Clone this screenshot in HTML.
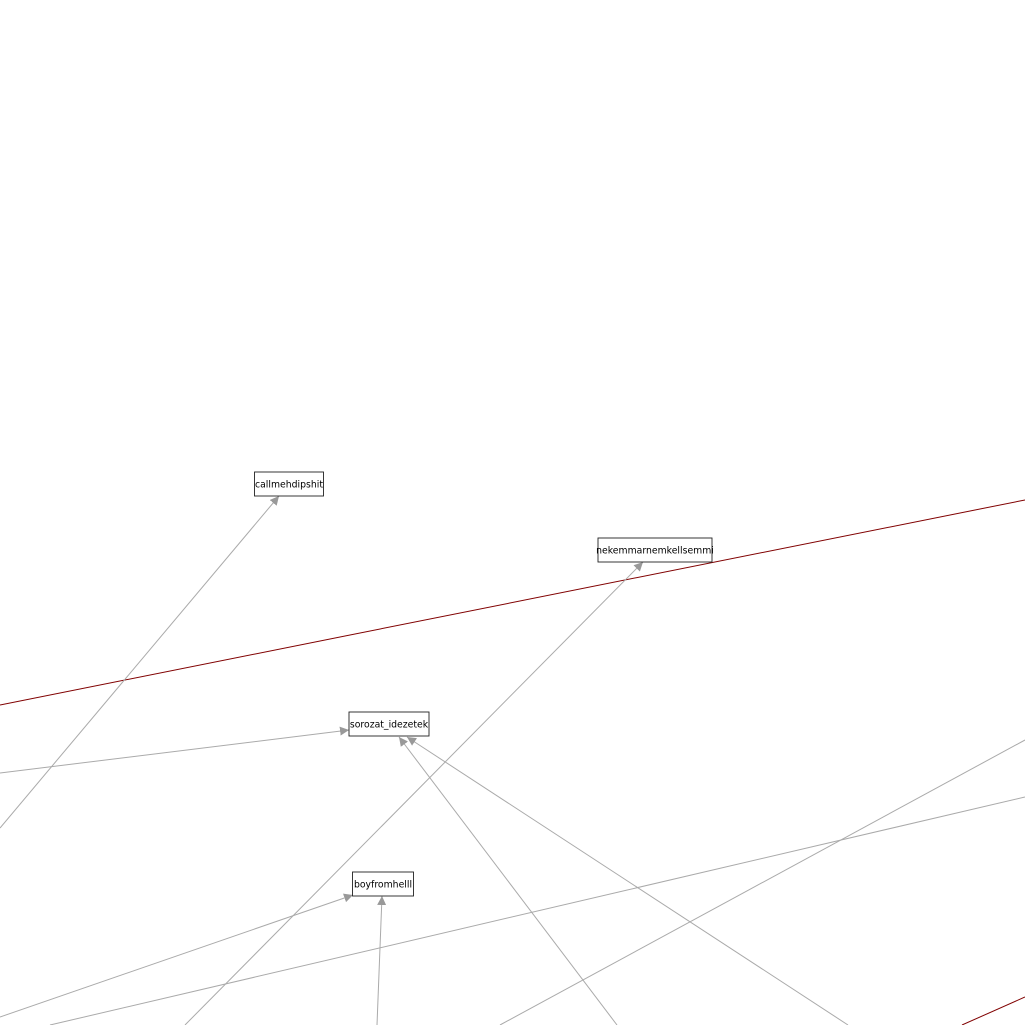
<!DOCTYPE html>
<html><head><meta charset="utf-8"><style>
html,body{margin:0;padding:0;background:#fff;}
svg{display:block;}
text{font-family:"DejaVu Sans","Liberation Sans",sans-serif;font-size:9.3px;fill:#000;}
</style></head><body>
<svg id="g" width="1025" height="1025" viewBox="0 0 1025 1025">
<defs><marker id="arr" viewBox="0 0 10 10" refX="10" refY="5" markerWidth="9" markerHeight="9" markerUnits="userSpaceOnUse" orient="auto"><path d="M0,0 L10,5 L0,10 z" fill="#999"/></marker></defs>
</svg>
<script>
const nodeNames = ["callmehdipshit","nekemmarnemkellsemmi","sorozat_idezetek","boyfromhelll"];
const nodeX = [289,655,389,383];
const nodeY = [484,550,724,884];
const nodeW = [69,114,80,61];
const edgeFrom = [[0,828],[185,1025],[0,773],[617,1025],[848,1025],[0,1017],[377,1025]];
const edgeTo = [[279,496],[643,562],[349,730],[399,737],[407,737],[353,895],[382,896]];
const plainEdges = [[50,1025,1025,797],[500,1025,1025,740]];
const redEdges = [[0,705,1025,500],[962,1025,1025,997]];
const svg = document.getElementById('g');
const NS = 'http://www.w3.org/2000/svg';
function line(x1,y1,x2,y2,stroke,arrow){
  const l=document.createElementNS(NS,'line');
  l.setAttribute('x1',x1);l.setAttribute('y1',y1);l.setAttribute('x2',x2);l.setAttribute('y2',y2);
  l.setAttribute('stroke',stroke);l.setAttribute('stroke-width','1');
  if(arrow) l.setAttribute('marker-end','url(#arr)');
  svg.appendChild(l);return l;
}
plainEdges.forEach(e=>{const l=line(e[0],e[1],e[2],e[3],'#aaa',false);

});
redEdges.forEach(e=>{const l=line(e[0],e[1],e[2],e[3],'#800000',false);

});
edgeFrom.forEach((f,i)=>{const t=edgeTo[i];const l=line(f[0],f[1],t[0],t[1],'#aaa',true);

});
nodeNames.forEach((n,i)=>{
  const g=document.createElementNS(NS,'g');
  
  
  const r=document.createElementNS(NS,'rect');
  r.setAttribute('x',nodeX[i]-nodeW[i]/2);r.setAttribute('y',nodeY[i]-12);
  r.setAttribute('width',nodeW[i]);r.setAttribute('height',24);
  r.setAttribute('fill','#fff');r.setAttribute('stroke','#222');r.setAttribute('stroke-width','0.9');
  
  
  const t=document.createElementNS(NS,'text');
  t.setAttribute('x',nodeX[i]);t.setAttribute('y',nodeY[i]+3.5);t.setAttribute('text-anchor','middle');
  t.textContent=n;
  
  
  g.appendChild(r);g.appendChild(t);svg.appendChild(g);
});
</script>
</body></html>
